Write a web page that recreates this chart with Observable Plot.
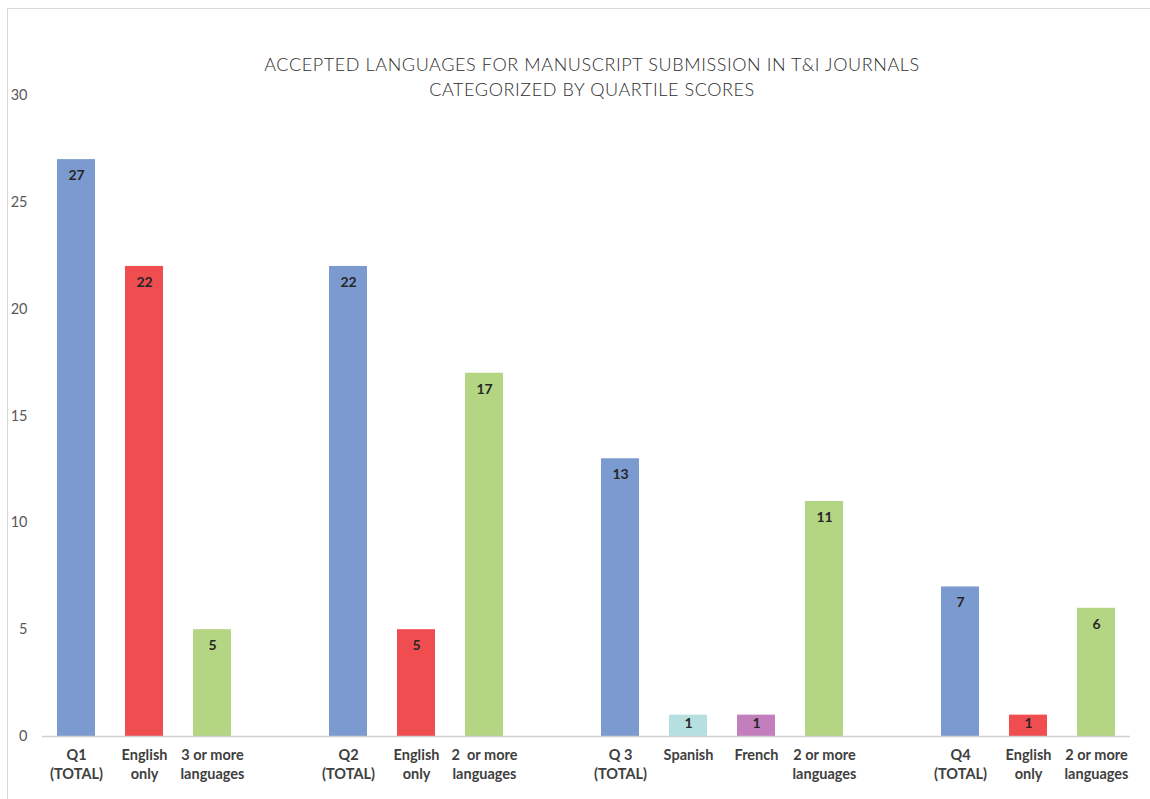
<!DOCTYPE html>
<html>
<head>
<meta charset="utf-8">
<script src="https://cdn.jsdelivr.net/npm/d3@7"></script>
<script src="https://cdn.jsdelivr.net/npm/@observablehq/plot@0.6"></script>
<style>
  html, body { margin: 0; padding: 0; background: #fff; overflow: hidden; }
  #wrap { position: relative; width: 1150px; height: 799px; }
  #frame { position: absolute; left: 7px; top: 8px; width: 1170px; height: 800px; border: 1px solid #d9d9d9; box-sizing: border-box; }
  #title { position: absolute; left: 192px; width: 800px; top: 52px; text-align: center;
    font-family: Lato, "Open Sans", sans-serif; font-weight: 300; font-size: 18px; line-height: 25px;
    letter-spacing: 0.6px; color: #2e2e2e; }
  #chart { position: absolute; left: 0; top: 0; }
</style>
</head>
<body>
<div id="wrap">
  <div id="frame"></div>
  <div id="chart"></div>
  <div id="title">ACCEPTED LANGUAGES FOR MANUSCRIPT SUBMISSION IN T&amp;I JOURNALS<br>CATEGORIZED BY QUARTILE SCORES</div>
</div>
<script>
// slot order along the x axis (gaps separate the quartile groups)
const slots = ["q1-total","q1-en","q1-3p","gap1","q2-total","q2-en","q2-2p","gap2","q3-total","q3-es","q3-fr","q3-2p","gap3","q4-total","q4-en","q4-2p"];
const ids = ["q1-total","q1-en","q1-3p","q2-total","q2-en","q2-2p","q3-total","q3-es","q3-fr","q3-2p","q4-total","q4-en","q4-2p"];
const labels = ["Q1\n(TOTAL)","English\nonly","3 or more\nlanguages","Q2\n(TOTAL)","English\nonly","2  or more\nlanguages","Q 3\n(TOTAL)","Spanish","French","2 or more\nlanguages","Q4\n(TOTAL)","English\nonly","2 or more\nlanguages"];
const values = [27, 22, 5, 22, 5, 17, 13, 1, 1, 11, 7, 1, 6];
const kinds = ["total","english","multi","total","english","multi","total","spanish","french","multi","total","english","multi"];
const kindNames = ["total","english","multi","spanish","french"];
const kindColors = ["#7b9bd0","#ef4d50","#b4d683","#b6dfe0","#c37fbd"];
const yTicks = [0, 5, 10, 15, 20, 25, 30];

const data = ids.map((id, i) => ({id, label: labels[i], value: values[i], kind: kinds[i]}));
const labelOf = new Map(ids.map((id, i) => [id, labels[i]]));

const chart = Plot.plot({
  width: 1150,
  height: 799,
  marginTop: 95,
  marginBottom: 63,
  marginLeft: 42,
  marginRight: 20,
  style: {background: "transparent", overflow: "visible"},
  x: {domain: slots, paddingInner: 0.44, paddingOuter: 0.22, label: null},
  y: {domain: [0, 30], label: null},
  color: {domain: kindNames, range: kindColors},
  marks: [
    Plot.barY(data, {x: "id", y: "value", fill: "kind"}),
    Plot.ruleY([0], {stroke: "#d0d0d0", strokeWidth: 1.5}),
    Plot.text(data.filter(d => d.value > 2), {x: "id", y: "value", text: d => String(d.value), dy: 16,
      fontFamily: "Lato, sans-serif", fontWeight: "bold", fontSize: 14, fill: "#262626"}),
    Plot.text(data.filter(d => d.value <= 2), {x: "id", y: "value", text: d => String(d.value), dy: 8,
      fontFamily: "Lato, sans-serif", fontWeight: "bold", fontSize: 14, fill: "#262626"}),
    Plot.axisY({ticks: yTicks, tickSize: 0, tickPadding: 15, fontSize: 14.5, fontFamily: "Lato, sans-serif",
      fill: "#595959", label: null}),
    Plot.axisX({tickSize: 0, tickPadding: 10, tickFormat: d => labelOf.get(d) ?? "", fontSize: 14.5,
      fontFamily: "Lato, sans-serif", fontWeight: "bold", fill: "#404040", lineHeight: 1.32, label: null})
  ]
});
document.getElementById("chart").appendChild(chart);
</script>
</body>
</html>
